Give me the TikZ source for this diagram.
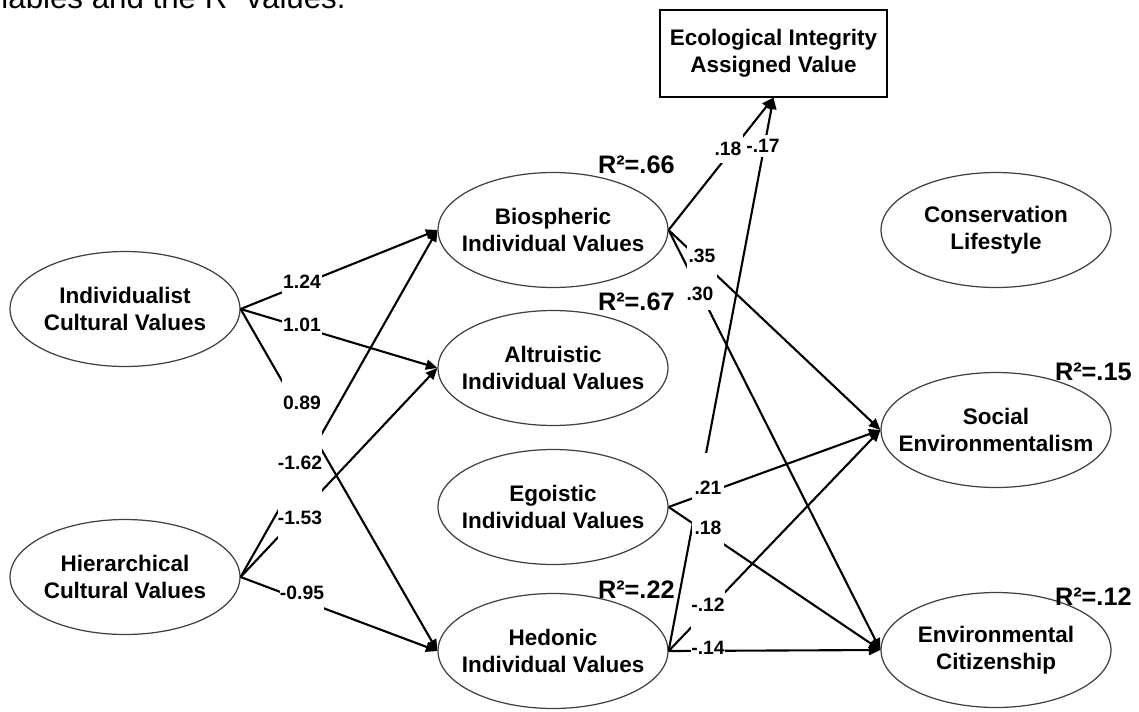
\documentclass[tikz,border=0pt]{standalone}
\usepackage{fontspec}
\setmainfont{Liberation Sans}
\usetikzlibrary{arrows.meta,shapes.geometric}
\begin{document}
\begin{tikzpicture}[x=0.02cm,y=-0.02cm,
  var/.style={ellipse,draw=black!75,line width=0.7pt,minimum width=4.6cm,minimum height=2.3cm,align=center,inner xsep=-2cm,inner ysep=-0.5cm,font=\bfseries\fontsize{12.8}{15.5}\selectfont},
  obs/.style={rectangle,draw=black,line width=0.7pt,minimum width=4.54cm,minimum height=1.74cm,align=center,inner sep=0pt,font=\bfseries\fontsize{12.8}{15.5}\selectfont},
  pth/.style={line width=1.2pt,-{Triangle[length=0.23cm,width=0.2cm]}},
  coef/.style={fill=white,inner sep=0pt,font=\bfseries\fontsize{11}{12}\selectfont},
  rsq/.style={anchor=east,inner sep=0pt,font=\bfseries\fontsize{14.4}{16}\selectfont}]
\useasboundingbox (0,0) rectangle (1139,711);

% caption fragment (cut off by the page edge, as in the source)
\node[anchor=base east,inner sep=0pt,font=\fontsize{17.8}{20}\selectfont] (cap) at (346,8) {variables and the R² values.};

% latent variables
\node[var] (ind) at (125,309) {Individualist\\Cultural Values};
\node[var] (hie) at (125,577) {Hierarchical\\Cultural Values};
\node[var] (bio) at (553,230) {Biospheric\\Individual Values};
\node[var] (alt) at (553,368) {Altruistic\\Individual Values};
\node[var] (ego) at (553,507) {Egoistic\\Individual Values};
\node[var] (hed) at (553,651) {Hedonic\\Individual Values};
\node[obs] (eco) at (773.5,53.5) {Ecological Integrity\\Assigned Value};
\node[var] (con) at (996,230) {Conservation\\Lifestyle};
\node[var] (soc) at (996,430) {Social\\Environmentalism};
\node[var] (env) at (996,650) {Environmental\\Citizenship};

% paths
\draw[pth] (ind.east) -- (bio.west);
\draw[pth] (ind.east) -- (alt.west);
\draw[pth] (ind.east) -- (hed.west);
\draw[pth] (hie.east) -- (bio.west);
\draw[pth] (hie.east) -- (alt.west);
\draw[pth] (hie.east) -- (hed.west);
\draw[pth] (bio.east) -- (eco.south);
\draw[pth] (hed.east) -- (eco.south);
\draw[pth] (bio.east) -- (soc.west);
\draw[pth] (bio.east) -- (env.west);
\draw[pth] (ego.east) -- (soc.west);
\draw[pth] (ego.east) -- (env.west);
\draw[pth] (hed.east) -- (soc.west);
\draw[pth] (hed.east) -- (env.west);

% coefficients
\node[coef,minimum width=0.8cm,minimum height=1.2cm] (c1) at (302,282) {1.24};
\node[coef,minimum width=0.8cm,minimum height=1.2cm] (c2) at (302,325) {1.01};
\node[coef,minimum width=0.8cm,minimum height=1.2cm] (c3) at (302,403) {0.89};
\node[coef,minimum width=0.8cm,minimum height=1.2cm] (c4) at (300,463) {-1.62};
\node[coef,minimum width=0.8cm,minimum height=1.2cm] (c5) at (300,518) {-1.53};
\node[coef,minimum width=0.8cm,minimum height=1.2cm] (c6) at (302,593) {-0.95};
\node[coef,minimum width=0.6cm,minimum height=0.56cm] (c7) at (728,149) {.18};
\node[coef,minimum width=0.64cm,minimum height=0.44cm] (c8) at (763,146) {-.17};
\node[coef,minimum width=0.6cm,minimum height=0.86cm] (c9) at (702,256) {.35};
\node[coef,minimum width=0.6cm,minimum height=0.64cm] (c10) at (700,294) {.30};
\node[coef,minimum width=0.64cm,minimum height=1.4cm] (c11) at (708,488) {.21};
\node[coef,minimum width=0.64cm,minimum height=0.72cm] (c12) at (708,528) {.18};
\node[coef,minimum width=0.64cm,minimum height=1.0cm] (c13) at (708,605) {-.12};
\node[coef,minimum width=0.64cm,minimum height=0.8cm] (c14) at (708,648) {-.14};

% R squared
\node[rsq] (r1) at (675,165) {R²=.66};
\node[rsq] (r2) at (675,302) {R²=.67};
\node[rsq] (r3) at (675,590) {R²=.22};
\node[rsq] (r4) at (1132,372) {R²=.15};
\node[rsq] (r5) at (1132,597) {R²=.12};
\end{tikzpicture}
\end{document}
